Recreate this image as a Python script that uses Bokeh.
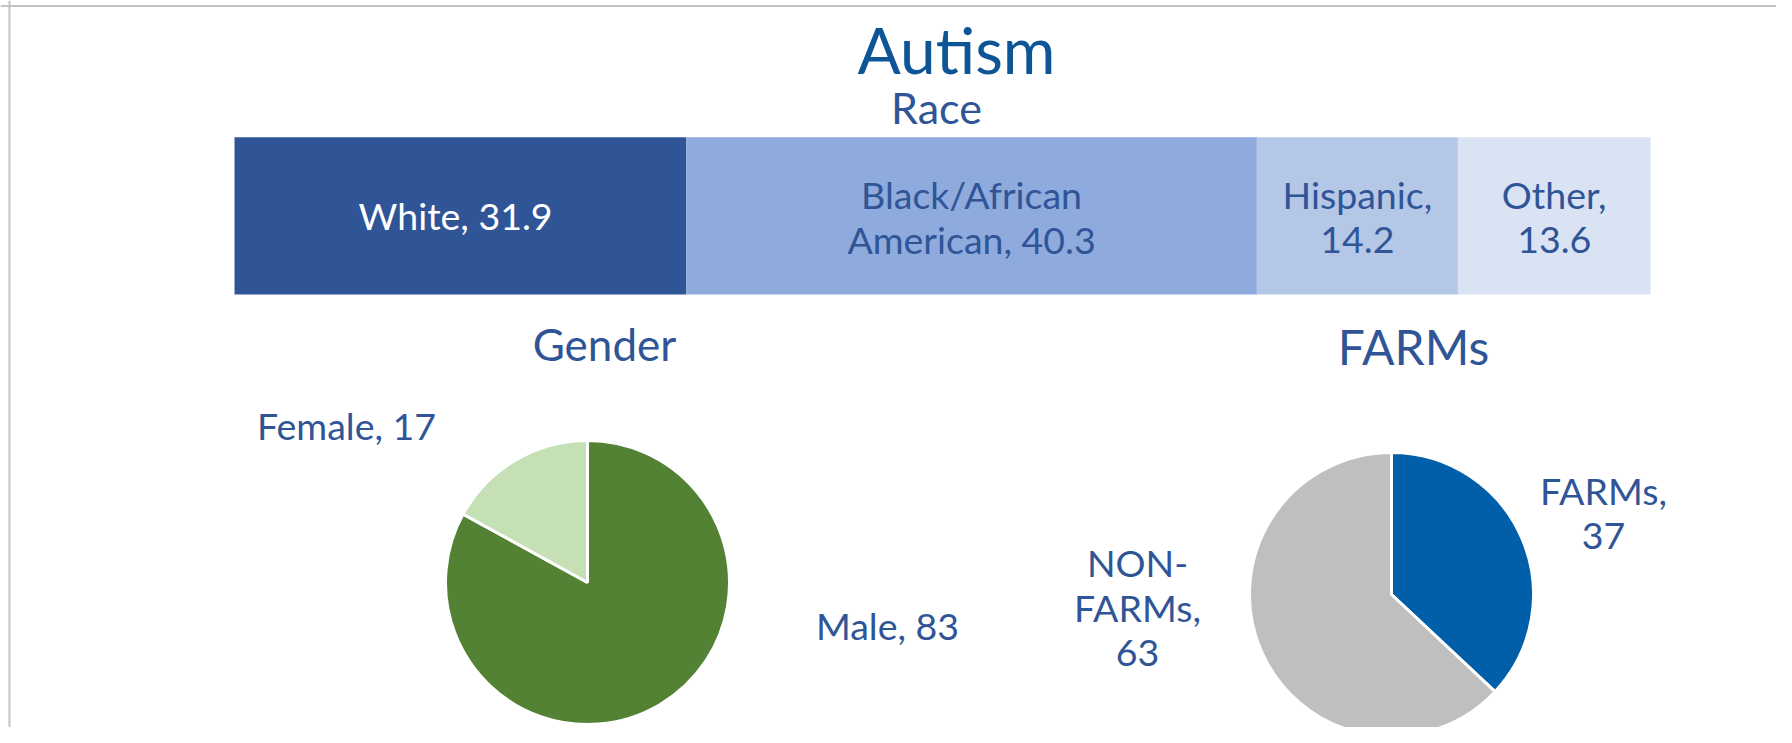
import math
import textwrap
import numpy as np
from bokeh.plotting import figure
from bokeh.models import Range1d, Span, ColumnDataSource
from bokeh.core.properties import value
from bokeh.embed import file_html
from bokeh.resources import INLINE

# ---------------- data ----------------
chart_title = "Autism"

race_title = "Race"
race_cats = ["White ", "Black/African American", "Hispanic", "Other"]
race_vals = [31.9, 40.3, 14.2, 13.6]

gender_title = "Gender"
gender_cats = ["Male", "Female"]
gender_vals = [83, 17]

farms_title = "FARMs"
farms_cats = ["FARMs", "NON-FARMs"]
farms_vals = [37, 63]

# ---------------- styles ----------------
race_colors = ["#2F5597", "#8FAADC", "#B4C7E7", "#DAE3F3"]
race_label_colors = ["#FFFFFF", "#2F5597", "#2F5597", "#2F5597"]
race_wrap = [20, 14, 9, 6]
gender_colors = ["#548235", "#C5E0B4"]
farms_colors = ["#005FA8", "#BFBFBF"]
TITLE_COLOR = "#0E5597"
TEXT_COLOR = "#2F5597"
FONT = "Lato"
LABEL_SIZE = 37.5

# ---------------- layout (pixels, y downward) ----------------
W, H = 1776, 727
BAR_L, BAR_R = 234, 1650
BAR_TOP, BAR_BOT = 136.7, 294
PIE_R = 142
GENDER_C = (587, 582)
FARMS_C = (1391, 594)
LINE_GAP = 45
BASELINE_FIX = 0.43  # em offset to place the alphabetic baseline where wanted
LABEL_NUDGE = 3.5

pct_per_px = 100.0 / (BAR_R - BAR_L)
p = figure(width=W, height=H, output_backend="svg", toolbar_location=None,
           x_range=Range1d(0, W), y_range=Range1d(H, 0),
           min_border=0, outline_line_color=None,
           x_axis_type=None, y_axis_type=None, background_fill_color="white",
           border_fill_color="white")
p.grid.visible = False
p.extra_x_ranges = {"pct": Range1d(-BAR_L * pct_per_px, (W - BAR_L) * pct_per_px)}

# chart border (top and left edges visible)
p.add_layout(Span(location=5.5, dimension="width", line_color="#C4C4C4", line_width=2))
p.add_layout(Span(location=9, dimension="height", line_color="#C4C4C4", line_width=2))


def txt(x, y, s, size, color, range_name="default", colors=None, nudge=0.0):
    ys = [v - BASELINE_FIX * size + nudge for v in y]
    src = ColumnDataSource(dict(x=list(x), y=ys, t=list(s),
                                c=list(colors) if colors else [color] * len(ys)))
    p.text(x="x", y="y", text="t", text_color="c", source=src, x_range_name=range_name,
           text_align="center", text_baseline="alphabetic",
           text_font_size=f"{size}px", text_font=value(FONT))


# titles
txt([956], [73], [chart_title], 64, TITLE_COLOR, nudge=3.5)
txt([936], [125], [race_title], 43, TEXT_COLOR)
txt([604], [362], [gender_title], 44, TEXT_COLOR)
txt([1413], [367], [farms_title], 48, TEXT_COLOR)

# ---------------- race stacked bar ----------------
ends = np.cumsum(race_vals)
starts = ends - np.array(race_vals)
bar_src = ColumnDataSource(dict(left=starts, right=ends, color=race_colors,
                                y=[(BAR_TOP + BAR_BOT) / 2] * len(race_vals)))
p.hbar(y="y", left="left", right="right", height=BAR_BOT - BAR_TOP,
       fill_color="color", line_color=None, source=bar_src, x_range_name="pct")

lx, ly, lt, lc = [], [], [], []
for cat, v, s, e, col, wr in zip(race_cats, race_vals, starts, ends, race_label_colors, race_wrap):
    lines = textwrap.wrap(f"{cat}, {v}".replace(" ,", ","), width=wr)
    if cat.endswith(" "):
        lines = [ln.replace(", ", ",  ") for ln in lines]
    n = len(lines)
    first = 228 if n == 1 else 207
    for i, line in enumerate(lines):
        lx.append((s + e) / 2)
        ly.append(first + i * LINE_GAP)
        lt.append(line)
        lc.append(col)
txt(lx, ly, lt, LABEL_SIZE, None, range_name="pct", colors=lc, nudge=LABEL_NUDGE)


# ---------------- pies ----------------
def pie(center, vals, colors):
    v = np.array(vals, dtype=float)
    cum = np.concatenate([[0], np.cumsum(v)]) / v.sum()
    start = math.pi / 2 - cum[1:] * 2 * math.pi
    end = math.pi / 2 - cum[:-1] * 2 * math.pi
    src = ColumnDataSource(dict(x=[center[0]] * len(v), y=[center[1]] * len(v),
                                s=start, e=end, c=colors))
    p.wedge(x="x", y="y", radius=PIE_R, radius_units="screen", start_angle="s",
            end_angle="e", direction="anticlock", fill_color="c",
            line_color="white", line_width=3, source=src)


pie(GENDER_C, gender_vals, gender_colors)
pie(FARMS_C, farms_vals, farms_colors)

# pie labels (baseline positions relative to pie centres)
gender_label_pos = [(300, 56), (-241, -144)]
farms_label_pos = [(212, -91), (-254, -19)]
gender_wrap = [20, 20]
farms_wrap = [6, 6]


def pie_labels(center, cats, vals, pos, wraps):
    xs, ys, ts = [], [], []
    for cat, v, (dx, dy), wr in zip(cats, vals, pos, wraps):
        lines = textwrap.wrap(f"{cat}, {v}", width=wr)
        for i, line in enumerate(lines):
            xs.append(center[0] + dx)
            ys.append(center[1] + dy + i * LINE_GAP)
            ts.append(line)
    txt(xs, ys, ts, LABEL_SIZE, TEXT_COLOR, nudge=LABEL_NUDGE)


pie_labels(GENDER_C, gender_cats, gender_vals, gender_label_pos, gender_wrap)
pie_labels(FARMS_C, farms_cats, farms_vals, farms_label_pos, farms_wrap)

open("out.html", "w").write(file_html(p, INLINE))
